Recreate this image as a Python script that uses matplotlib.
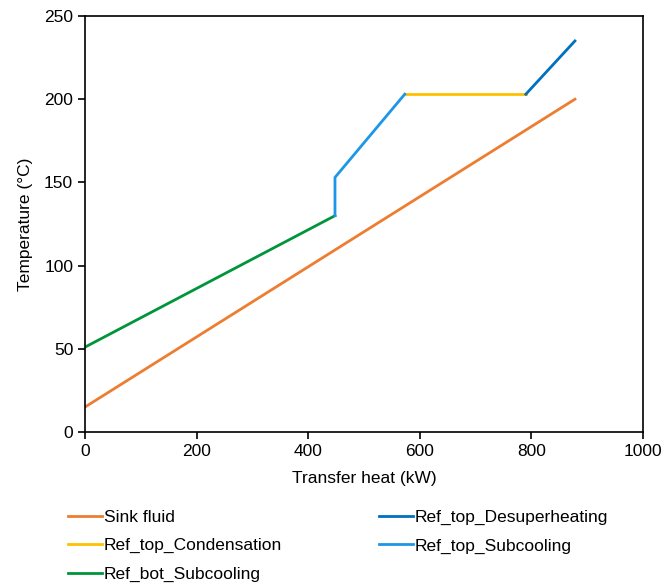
import matplotlib
matplotlib.use("Agg")
import matplotlib.pyplot as plt

plt.rcParams['font.family'] = ['Liberation Sans', 'DejaVu Sans']

# Q-T diagram data (kW, degC)
sink_q = [0, 878]
sink_t = [15, 200]

desup_q = [790, 878]
desup_t = [203, 235]

cond_q = [573, 790]
cond_t = [203, 203]

top_sub_q = [448, 448, 573]
top_sub_t = [130, 153, 203]

bot_sub_q = [0, 448]
bot_sub_t = [51, 130]

W, H = 666, 587
fig = plt.figure(figsize=(W/100, H/100), dpi=100)
ax = fig.add_axes([85/W, 1 - 432/H, (643-85)/W, (432-16)/H])

lw = 2.0
l_sink, = ax.plot(sink_q, sink_t, color='#ED7D31', lw=lw, label='Sink fluid')
l_cond, = ax.plot(cond_q, cond_t, color='#FFC000', lw=lw, label='Ref_top_Condensation')
l_bot, = ax.plot(bot_sub_q, bot_sub_t, color='#00953A', lw=lw, label='Ref_bot_Subcooling')
l_desup, = ax.plot(desup_q, desup_t, color='#0070C0', lw=lw, label='Ref_top_Desuperheating')
l_top, = ax.plot(top_sub_q, top_sub_t, color='#1E96E8', lw=lw, label='Ref_top_Subcooling')

fs = 12.5
ax.set_xlim(0, 1000)
ax.set_ylim(0, 250)
ax.set_xticks(range(0, 1001, 200))
ax.set_yticks(range(0, 251, 50))
ax.tick_params(direction='out', length=5, width=1.2, labelsize=fs, colors='black')
for s in ax.spines.values():
    s.set_linewidth(1.2)
ax.set_xlabel('Transfer heat (kW)', fontsize=fs, labelpad=9)
ax.set_ylabel('Temperature (\u00b0C)', fontsize=fs, labelpad=8)

# legend: two columns under the axes
handles = [l_sink, l_cond, l_bot, l_desup, l_top]
fig.legend(handles=handles, labels=[h.get_label() for h in handles],
           ncol=2, loc='upper left', bbox_to_anchor=(68/W, 1 - 510/H),
           frameon=False, fontsize=fs, handlelength=1.95, handletextpad=0.1,
           columnspacing=5.6, labelspacing=0.75, borderpad=0, borderaxespad=0)

fig.savefig('out.png', dpi=100)
